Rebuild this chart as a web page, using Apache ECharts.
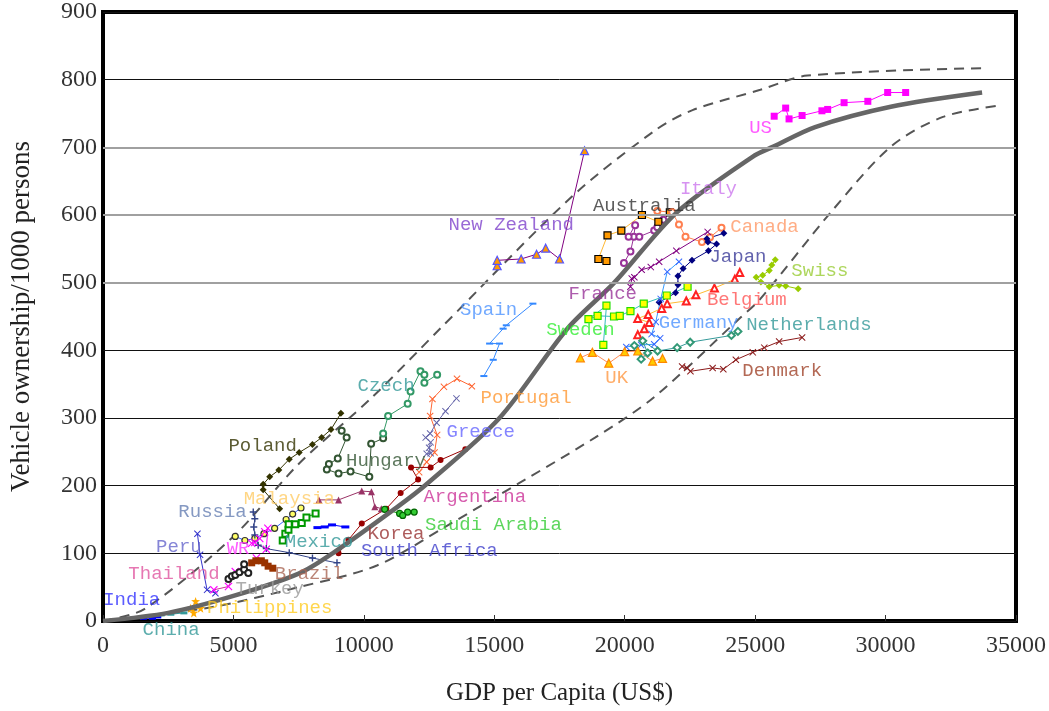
<!DOCTYPE html>
<html>
<head>
<meta charset="utf-8">
<script src="https://cdn.jsdelivr.net/npm/echarts@6/dist/echarts.min.js"></script>
<style>html,body{margin:0;background:#fff}#main{width:1049px;height:711px}</style>
</head>
<body>
<div id="main"></div>
<script>
// 趋势曲线
var trendLine = [[0,0],[2500,12],[5000,37],[7500,70],[8800,100],[11300,169],[12400,202],[15200,300],[17800,432],[19600,500],[22000,604],[24900,686],[25700,701],[27300,730],[30200,760],[33700,781]];
var upperBand = [[0,0],[1600,18],[5000,125],[7500,232],[10300,330],[13000,435],[18000,628],[21200,726],[22600,755],[25200,785],[27000,806],[33700,817]];
var lowerBand = [[0,0],[4100,20],[7500,50],[10500,82],[13200,141],[15000,182],[18860,271],[21100,330],[24400,447],[25200,476],[27900,604],[30200,701],[32200,745],[34400,762]];

// 各国数据 [GDP, 保有量]
var US = [[25730,746],[26170,758],[26300,742],[26800,747],[27560,754],[27780,756],[28410,766],[29320,768],[30080,781],[30770,781]];
var Italy = [[19970,529],[20220,546],[20350,568],[20400,585],[20150,568],[20560,568],[21130,577],[21250,582],[21480,593],[21760,604]];
var Australia = [[19300,532],[18990,535],[19340,570],[19870,577],[20660,600],[21290,590],[21730,604]];
var Canada = [[21250,606],[21820,604],[22080,586],[22330,568],[22960,560],[23270,567],[23710,581]];
var Japan = [[21320,471],[21950,485],[22040,497],[22040,510],[22240,521],[22580,533],[23210,547],[23520,557],[23190,560],[23150,565],[23800,573]];
var France = [[20220,494],[20270,506],[20370,508],[20650,519],[21000,523],[21320,531],[21980,547],[23180,575]];
var Germany = [[20060,405],[20630,408],[21130,409],[21360,418],[21030,424],[21190,442],[21380,476],[21630,516],[22080,531]];
var Belgium = [[20500,423],[20750,432],[20940,441],[20500,447],[20900,453],[21420,462],[21630,469],[22360,473],[22730,482],[23440,492],[24220,505],[24410,515]];
var Sweden = [[19180,408],[19300,466],[18610,446],[18960,451],[19590,450],[19810,451],[20220,458],[20730,469],[21610,481],[22410,494]];
var UK = [[18300,389],[18760,397],[19390,381],[20000,398],[20500,399],[21070,384],[21450,388]];
var Netherlands = [[20370,407],[20630,387],[20880,396],[20690,414],[21260,399],[22010,404],[22510,412],[24090,422],[24340,428]];
var Denmark = [[22200,376],[22390,374],[22520,369],[23370,374],[23780,372],[24260,386],[24910,397],[25350,404],[25920,413],[26800,419]];
var Swiss = [[25770,534],[25640,526],[25540,518],[25290,511],[25040,508],[25220,501],[25540,494],[25920,496],[26170,495],[26650,491]];
var NewZealand = [[15110,525],[15110,533],[16030,535],[16620,542],[16970,551],[17500,535],[18460,695]];
var Spain = [[14600,362],[14960,386],[15200,410],[14820,410],[15340,432],[15460,437],[16480,469]];
var Portugal = [[12120,220],[12410,235],[12710,249],[12810,275],[12540,303],[12630,328],[13070,346],[13570,358],[14140,347]];
var Greece = [[12410,247],[12560,248],[12500,256],[12560,264],[12370,271],[12540,277],[12790,293],[13130,310],[13550,329]];
var Argentina = [[8280,179],[9030,179],[9920,192],[10290,191],[10420,169],[10670,166]];
var Korea = [[9030,100],[9410,120],[9920,144],[10860,166],[11410,189],[12080,209],[11810,227],[12560,227],[12940,238],[13890,254]];
var SaudiArabia = [[10800,165],[11370,159],[11490,156],[11680,161],[11930,161]];
var SouthAfrica = [[8220,138],[8500,139],[8780,142],[9290,139]];
var Hungary = [[9150,281],[9340,271],[9000,240],[8660,232],[8580,224],[9030,218],[9490,221],[10210,213],[10280,262],[10740,270]];
var Czech = [[10740,277],[10930,303],[11680,321],[11790,339],[12170,369],[12320,364],[12320,352],[12810,364]];
var Poland = [[6770,166],[6140,194],[6140,202],[6390,213],[6740,223],[7140,239],[7520,249],[8030,261],[8380,271],[8740,283],[9120,307]];
var Malaysia = [[5070,125],[5440,119],[5820,122],[6170,129],[6580,137],[7020,150],[7270,158],[7590,167]];
var Russia = [[5760,161],[5820,151],[5780,139],[5820,127],[5950,112],[6260,107],[7140,101],[8030,93],[8970,86]];
var Mexico = [[6890,119],[6990,129],[7110,135],[7120,143],[7370,143],[7620,145],[7800,153],[8150,159]];
var Peru = [[3620,129],[3720,98],[3990,46],[4310,41]];
var WR = [[5700,115],[5820,116],[6010,122],[6200,132],[6320,137],[6260,106]];
var Thailand = [[4250,46],[4810,51],[5070,73],[5880,93]];
var Turkey = [[4810,62],[4940,66],[5070,68],[5230,72],[5410,76],[5570,71],[5410,84]];
var Brazil = [[5700,86],[5860,89],[6070,89],[6200,86],[6330,81],[6510,78]];
var India = [[1550,4],[1900,4],[2100,6]];
var China = [[2230,9],[2600,10],[3100,12]];
var Philippines = [[3480,12],[3360,19],[3740,19],[3550,29]];

// 国家名称标注位置
var labelNames = ['US','Italy','Australia','New Zealand','Canada','Japan','Swiss','France','Belgium','Spain','Sweden','Germany','Netherlands','UK','Denmark','Czech','Portugal','Greece','Poland','Hungary','Malaysia','Argentina','Russia','Saudi Arabia','Korea','Mexico','Peru','WR','South Africa','Thailand','Brazil','Turkey','India','Philippines','China'];
var labelX = [25210,23210,20750,15650,25360,24340,27480,19160,24680,14780,18300,22830,27060,19690,26040,10850,16220,14480,6120,10850,7140,14250,4200,14970,11230,8280,2910,5180,12510,2720,7900,6390,1100,6390,2610];
var labelY = [729,638,613,586,583,538,518,484,474,459,430,440,437,359,369,347,330,280,259,237,180,183,161,142,129,117,110,107,103,69,69,48,31,19,-13];
var labelColors = ['#ff33ff','#cc77ee','#333333','#7f44cc','#ff9966','#3b3b99','#99cc33','#993399','#ff5555','#4d94ff','#33ee33','#4d94ff','#339999','#ff9944','#a0442a','#339999','#ff9933','#6666ff','#333300','#335533','#ffcc66','#cc3399','#6680b3','#33cc33','#993333','#339999','#6666cc','#ff33ff','#4040cc','#e0559f','#aa6655','#999999','#3333ff','#ffcc22','#339999'];

var X_SYM = 'path://M0,1L1,0L5,4L9,0L10,1L6,5L10,9L9,10L5,6L1,10L0,9L4,5Z';
var PLUS_SYM = 'path://M4,0H6V4H10V6H6V10H4V6H0V4H4Z';
var DASH_SYM = 'path://M0,4H10V6H0Z';
var STAR_SYM = 'path://M5,0L6.2,3.5L10,3.8L7,6.1L8.1,10L5,7.8L1.9,10L3,6.1L0,3.8L3.8,3.5Z';

function country(name, data, lineColor, symbol, fill, border, size) {
    return {
        name: name,
        type: 'line',
        data: data,
        symbol: symbol,
        symbolSize: size || 6,
        showAllSymbol: true,
        lineStyle: { color: lineColor, width: 1 },
        itemStyle: { color: fill, borderColor: border || fill, borderWidth: border ? 1.2 : 0 },
        emphasis: { disabled: true },
        z: 3
    };
}

var myChart = echarts.init(document.getElementById('main'));

var series = [
    {
        type: 'line', data: upperBand, smooth: 0.3, showSymbol: false,
        lineStyle: { color: '#555', width: 2, type: [10, 7] }, z: 2, silent: true
    },
    {
        type: 'line', data: lowerBand, smooth: 0.3, showSymbol: false,
        lineStyle: { color: '#555', width: 2, type: [10, 7] }, z: 2, silent: true
    },
    {
        type: 'line', data: trendLine, smooth: 0.3, showSymbol: false,
        lineStyle: { color: '#666', width: 4.5 }, z: 4, silent: true,
        markLine: {
            silent: true, symbol: 'none', label: { show: false },
            lineStyle: { color: '#a0a0a0', width: 2, type: 'solid' },
            data: [{ yAxis: 500 }, { yAxis: 600 }, { yAxis: 700 }]
        }
    },
    country('US', US, '#ff00ff', 'rect', '#ff00ff', null, 7),
    country('Italy', Italy, '#993399', 'emptyCircle', '#993399'),
    country('Australia', Australia, '#ffb833', 'rect', '#ff9900', '#000', 7),
    country('Canada', Canada, '#ff7f50', 'emptyCircle', '#ff7f50'),
    country('Japan', Japan, '#000080', 'diamond', '#000080', null, 7),
    country('France', France, '#800080', X_SYM, '#800080', null, 7),
    country('Germany', Germany, '#3399ff', X_SYM, '#3366ff', null, 7),
    country('Belgium', Belgium, '#ffbb33', 'emptyTriangle', '#ff2222', null, 7),
    country('Sweden', Sweden, '#33bbbb', 'rect', '#ffff00', '#22dd00', 7),
    country('UK', UK, '#ff8c55', 'triangle', '#ffcc00', '#ff8800', 8),
    country('Netherlands', Netherlands, '#339999', 'emptyDiamond', '#339977', null, 7),
    country('Denmark', Denmark, '#8b1a1a', X_SYM, '#8b1a1a', null, 7),
    country('Swiss', Swiss, '#99cc00', 'diamond', '#99cc00', null, 7),
    country('New Zealand', NewZealand, '#800080', 'triangle', '#ff9900', '#5555ff', 8),
    country('Spain', Spain, '#3388ff', DASH_SYM, '#3388ff', null, [7, 2]),
    country('Portugal', Portugal, '#ff6633', X_SYM, '#ff6633', null, 7),
    country('Greece', Greece, '#6666aa', X_SYM, '#6666aa', null, 7),
    country('Argentina', Argentina, '#993366', 'triangle', '#993366', null, 7),
    country('Korea', Korea, '#990000', 'circle', '#990000', null, 6),
    country('Saudi Arabia', SaudiArabia, '#009900', 'circle', '#33cc33', '#006600', 6),
    country('South Africa', SouthAfrica, '#0000ff', DASH_SYM, '#0000ff', null, [8, 3]),
    country('Hungary', Hungary, '#335533', 'emptyCircle', '#335533', null, 6),
    country('Czech', Czech, '#339966', 'emptyCircle', '#339966', null, 6),
    country('Poland', Poland, '#333300', 'diamond', '#333300', null, 7),
    country('Malaysia', Malaysia, '#3366ff', 'circle', '#ffff66', '#333', 6),
    country('Russia', Russia, '#334488', PLUS_SYM, '#334488', null, 7),
    country('Mexico', Mexico, '#009900', 'emptyRect', '#009900', null, 6),
    country('Peru', Peru, '#3333cc', X_SYM, '#3333cc', null, 7),
    country('WR', WR, '#ff00ff', X_SYM, '#ff00ff', null, 8),
    country('Thailand', Thailand, '#cc3399', X_SYM, '#ff00ff', null, 8),
    country('Turkey', Turkey, '#222', 'emptyCircle', '#222', null, 6),
    country('Brazil', Brazil, '#993300', 'rect', '#993300', null, 7),
    country('India', India, '#0000ff', DASH_SYM, '#0000ff', null, [7, 3]),
    country('China', China, '#339999', DASH_SYM, '#339999', null, [7, 3]),
    country('Philippines', Philippines, '#ffaa00', STAR_SYM, '#ffaa00', null, 9)
];

var labelData = [];
for (var i = 0; i < labelNames.length; i++) {
    labelData.push({
        name: labelNames[i],
        value: [labelX[i], labelY[i]],
        label: { color: labelColors[i] }
    });
}
series.push({
    type: 'scatter',
    data: labelData,
    symbolSize: 0,
    clip: false,
    silent: true,
    z: 6,
    label: {
        show: true,
        position: 'inside',
        formatter: '{b}',
        fontFamily: 'Liberation Mono',
        fontSize: 19
    }
});

var option = {
    animation: false,
    grid: {
        left: 101, right: 21, top: 11, bottom: 86,
        show: true, borderColor: '#000', borderWidth: 4, backgroundColor: 'transparent'
    },
    xAxis: {
        type: 'value', min: 0, max: 35000, interval: 5000,
        name: 'GDP per Capita (US$)', nameLocation: 'middle', nameGap: 60,
        nameTextStyle: { fontFamily: 'Liberation Serif', fontSize: 25, color: '#222' },
        axisLine: { show: false },
        axisTick: { show: true, inside: true, length: 6, lineStyle: { color: '#333' } },
        axisLabel: {
            fontFamily: 'Liberation Serif', fontSize: 24, color: '#333', margin: 13,
            formatter: function (v) { return String(v); }
        },
        splitLine: { show: false }
    },
    yAxis: {
        type: 'value', min: 0, max: 900, interval: 100,
        name: 'Vehicle ownership/1000 persons', nameLocation: 'middle', nameGap: 68,
        nameTextStyle: { fontFamily: 'Liberation Serif', fontSize: 27, color: '#222' },
        axisLine: { show: false },
        axisTick: { show: false },
        axisLabel: { fontFamily: 'Liberation Serif', fontSize: 24, color: '#333', margin: 6 },
        splitLine: { show: true, lineStyle: { color: '#111', width: 1 } }
    },
    series: series
};

myChart.setOption(option);
</script>
</body>
</html>
